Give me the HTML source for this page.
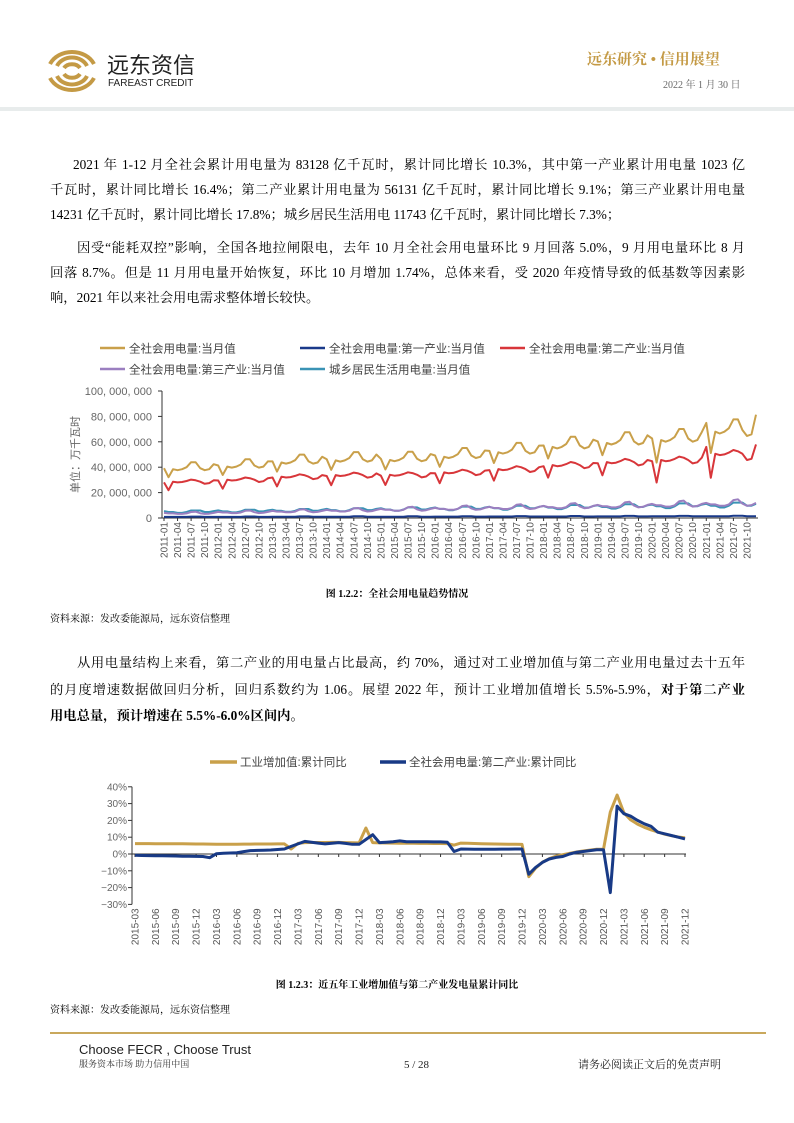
<!DOCTYPE html>
<html><head><meta charset="utf-8">
<style>
body{margin:0;background:#fff;}
#pg{position:relative;width:794px;height:1123px;overflow:hidden;background:#fff;font-family:"Liberation Serif","Noto Serif CJK SC",serif;color:#000;}
.a{position:absolute;white-space:nowrap;line-height:1;}
.ln{position:absolute;left:50px;width:695px;font-size:13.3px;line-height:16px;text-align:justify;text-align-last:justify;white-space:nowrap;}
.cap{position:absolute;left:0;width:794px;text-align:center;font-size:10px;font-weight:bold;}
.src{position:absolute;left:50px;font-size:10px;}
svg text{font-family:"Liberation Sans","Noto Sans CJK SC",sans-serif;}
</style></head><body><div id="pg">
<svg class="a" style="left:44px;top:48px" width="56" height="46" viewBox="0 0 56 46">
<g fill="none" stroke="#c49a45" stroke-width="4">
<path d="M6 16 A24 20 0 0 1 50 16"/><path d="M6 30 A24 20 0 0 0 50 30"/>
<path d="M13 18 A16 13 0 0 1 43 18"/><path d="M13 28 A16 13 0 0 0 43 28"/>
<path d="M20 20 A9 7 0 0 1 36 20"/><path d="M20 26 A9 7 0 0 0 36 26"/>
</g></svg>
<div class="a" style="left:107px;top:55px;font-family:'Liberation Sans','Noto Sans CJK SC',sans-serif;font-size:22px;color:#222;">远东资信</div>
<div class="a" style="left:108px;top:79px;font-family:'Liberation Sans',sans-serif;font-size:10px;color:#222;">FAREAST CREDIT</div>
<div class="a" style="left:587px;top:53px;font-size:15px;font-weight:bold;color:#c49a45;">远东研究 • 信用展望</div>
<div class="a" style="left:663px;top:81px;font-size:10px;color:#666;">2022 年 1 月 30 日</div>
<div class="a" style="left:0;top:107px;width:794px;height:4px;background:#e8ecec;"></div>

<div class="ln" style="top:157px;padding-left:23px;width:672px;">2021 年 1-12 月全社会累计用电量为 83128 亿千瓦时，累计同比增长 10.3%，其中第一产业累计用电量 1023 亿</div>
<div class="ln" style="top:182px;">千瓦时，累计同比增长 16.4%；第二产业累计用电量为 56131 亿千瓦时，累计同比增长 9.1%；第三产业累计用电量</div>
<div class="ln" style="top:207px;text-align-last:left;">14231 亿千瓦时，累计同比增长 17.8%；城乡居民生活用电 11743 亿千瓦时，累计同比增长 7.3%；</div>
<div class="ln" style="top:240px;padding-left:27px;width:668px;">因受“能耗双控”影响，全国各地拉闸限电，去年 10 月全社会用电量环比 9 月回落 5.0%，9 月用电量环比 8 月</div>
<div class="ln" style="top:265px;">回落 8.7%。但是 11 月用电量开始恢复，环比 10 月增加 1.74%，总体来看，受 2020 年疫情导致的低基数等因素影</div>
<div class="ln" style="top:290px;text-align-last:left;">响，2021 年以来社会用电需求整体增长较快。</div>

<svg class="a" id="c1" style="left:0;top:330px" width="794" height="250"></svg>
<div class="cap" style="top:585px;">图 1.2.2：全社会用电量趋势情况</div>
<div class="src" style="top:610px;">资料来源：发改委能源局，远东资信整理</div>

<div class="ln" style="top:655px;padding-left:27px;width:668px;">从用电量结构上来看，第二产业的用电量占比最高，约 70%，通过对工业增加值与第二产业用电量过去十五年</div>
<div class="ln" style="top:682px;">的月度增速数据做回归分析，回归系数约为 1.06。展望 2022 年，预计工业增加值增长 5.5%-5.9%，<b>对于第二产业</b></div>
<div class="ln" style="top:708px;text-align-last:left;"><b>用电总量，预计增速在 5.5%-6.0%区间内。</b></div>

<svg class="a" id="c2" style="left:0;top:745px" width="794" height="230"></svg>
<div class="cap" style="top:976px;">图 1.2.3：近五年工业增加值与第二产业发电量累计同比</div>
<div class="src" style="top:1001px;">资料来源：发改委能源局，远东资信整理</div>

<div class="a" style="left:50px;top:1032px;width:716px;height:2px;background:#c9a85c;"></div>
<div class="a" style="left:79px;top:1043px;font-family:'Liberation Sans',sans-serif;font-size:13px;color:#222;">Choose FECR , Choose Trust</div>
<div class="a" style="left:79px;top:1060px;font-size:9px;color:#333;">服务资本市场 助力信用中国</div>
<div class="a" style="left:404px;top:1060px;font-size:11px;color:#222;">5 / 28</div>
<div class="a" style="left:578px;top:1060px;font-size:11px;color:#222;">请务必阅读正文后的免责声明</div>
</div>
<script>
var NS="http://www.w3.org/2000/svg";
function el(svg,t,a,txt){var e=document.createElementNS(NS,t);for(var k in a)e.setAttribute(k,a[k]);if(txt!==undefined)e.textContent=txt;svg.appendChild(e);return e;}
(function(){
var s=document.getElementById('c1'),oy=330;
function Y(v){return 518-oy-v/100e6*127;}
var x0=164,x1=756,n=132;function X(i){return x0+i*(x1-x0)/(n-1);}
var yrT=[39.2,41.3,44.6,46.3,46.6,49.2,52.8,57.1,60.3,62.6,69.3];
var sT=[1.0,0.82,0.98,0.96,0.98,1.02,1.12,1.12,1.0,0.96,0.98,1.08];
var sS=[1.0,0.78,1.02,1.0,1.01,1.04,1.08,1.06,1.02,0.96,0.98,1.06];
var sR=[1.05,0.95,0.95,0.85,0.85,0.95,1.25,1.3,1.0,0.85,0.9,1.05];
var T=[],S=[],P=[],Tr=[],R=[];
for(var i=0;i<n;i++){var y=Math.floor(i/12),m=i%12,b=yrT[y]*1e6;
var t=b*sT[m],sv=b*0.715*sS[m];
if(y==9&&m==1){t*=0.85;sv*=0.8;} if(y==10&&m==0){t*=1.08;sv*=1.13;} if(y==10&&m==1){t*=0.9;sv*=0.82;}
if(y==10&&m>=9){t*=0.97;sv*=0.96;} if(i==n-1){t*=1.12;sv*=1.15;}
T.push(t);S.push(sv);P.push((0.85+y*0.05)*1e6*(m>5&&m<9?1.3:1));
var tb=(3.8+y*0.75)*1e6;Tr.push(tb*sR[m]);var rb=(4.7+y*0.5)*1e6;R.push(rb*(m==0||m==11?1.15:1)*(m>5&&m<9?1.25:1)*(m>2&&m<5?0.85:1));}
function line(d,c,w){var p="";for(var i=0;i<d.length;i++)p+=X(i).toFixed(1)+","+Y(d[i]).toFixed(1)+" ";el(s,"polyline",{points:p,fill:"none",stroke:c,"stroke-width":w,"stroke-linejoin":"round"});}
el(s,"line",{x1:162,y1:Y(100e6),x2:162,y2:Y(0),stroke:"#333","stroke-width":1});
el(s,"line",{x1:162,y1:Y(0),x2:758,y2:Y(0),stroke:"#333","stroke-width":1});
var lab=["100, 000, 000","80, 000, 000","60, 000, 000","40, 000, 000","20, 000, 000","0"];
for(var k=0;k<6;k++){var v=(5-k)*20e6;el(s,"line",{x1:158,y1:Y(v),x2:162,y2:Y(v),stroke:"#333"});el(s,"text",{x:152,y:Y(v)+4,"text-anchor":"end","font-size":"11",fill:"#666"},lab[k]);}
el(s,"text",{transform:"translate(79,"+Y(50e6)+") rotate(-90)","text-anchor":"middle","font-size":"11",fill:"#666"},"单位：万千瓦时");
for(var i=0;i<n;i+=3){var yy=2011+Math.floor(i/12),mm=i%12+1;el(s,"line",{x1:X(i),y1:Y(0),x2:X(i),y2:Y(0)+3,stroke:"#333"});
el(s,"text",{transform:"translate("+(X(i)+3.5)+","+(Y(0)+4)+") rotate(-90)","text-anchor":"end","font-size":"10",fill:"#555"},yy+"-"+(mm<10?"0":"")+mm);}
line(R,"#3a93b5",2);line(Tr,"#9b7fc0",2);line(P,"#1a3a8a",2);line(S,"#d8363a",2);line(T,"#c9a04a",2);
var L=[[100,18,"#c9a04a","全社会用电量:当月值"],[300,18,"#1a3a8a","全社会用电量:第一产业:当月值"],[500,18,"#d8363a","全社会用电量:第二产业:当月值"],[100,39,"#9b7fc0","全社会用电量:第三产业:当月值"],[300,39,"#3a93b5","城乡居民生活用电量:当月值"]];
L.forEach(function(l){el(s,"line",{x1:l[0],y1:l[1],x2:l[0]+25,y2:l[1],stroke:l[2],"stroke-width":2.5});el(s,"text",{x:l[0]+29,y:l[1]+4.5,"font-size":"11.5",fill:"#444"},l[3]);});
})();
(function(){
var s=document.getElementById('c2'),oy=745;
function Y(v){return 854-oy-v*1.68;}
function X(i){return 135+i*(685-135)/81;}
var G=[],B=[];for(var i=0;i<82;i++){G.push(0);B.push(0);}
var g2={0:6.2,6:6.1,11:5.9,12:5.8,13:5.8,21:6.0,22:6.0,23:3.0,24:6.3,25:6.8,30:6.9,33:6.6,34:15.5,35:6.8,36:6.6,40:6.4,46:6.2,47:5.3,48:6.5,52:6.0,57:5.7,58:-13.5,59:-8.4,60:-4.9,61:-2.8,62:-1.3,63:-0.4,64:0.4,65:1.2,66:1.8,67:2.3,68:2.8,69:2.8,70:25,71:35.1,72:24.5,73:20.3,74:17.8,75:15.9,76:14.4,77:13.1,78:11.8,79:10.9,80:10.1,81:9.6};
var bx={0:-0.8,10:-1.5,11:-2.2,12:0.2,15:0.8,17:2,20:2.4,22:3,24:6,25:7.5,27:6.5,28:6,30:6.8,32:5.8,33:5.8,35:11.5,36:6.8,38:7.3,39:7.8,40:7.3,45:7.2,46:7,47:1.5,48:3,51:2.8,57:3,58:-12,59:-8,60:-5,61:-3,62:-2,63:-1.5,64:0,65:1,66:1.5,67:2,68:2.5,69:2.5,70:-23,71:28.5,72:24,73:22.5,74:20,75:18,76:16.5,77:13,78:12,79:11,80:10,81:9};
function fill(arr,o){var keys=Object.keys(o).map(Number).sort(function(a,b){return a-b});for(var i=0;i<82;i++){var lo=keys[0],hi=keys[keys.length-1];for(var k=0;k<keys.length;k++){if(keys[k]<=i)lo=keys[k];}for(var k=keys.length-1;k>=0;k--){if(keys[k]>=i)hi=keys[k];}arr[i]=lo==hi?o[lo]:o[lo]+(o[hi]-o[lo])*(i-lo)/(hi-lo);}}
fill(G,g2);fill(B,bx);
el(s,"line",{x1:132,y1:Y(40),x2:132,y2:Y(-30),stroke:"#333"});
el(s,"line",{x1:132,y1:Y(0),x2:686,y2:Y(0),stroke:"#333"});
for(var v=40;v>=-30;v-=10){el(s,"line",{x1:128,y1:Y(v),x2:132,y2:Y(v),stroke:"#333"});el(s,"text",{x:127,y:Y(v)+3.5,"text-anchor":"end","font-size":"10",fill:"#666"},(v<0?"−":"")+Math.abs(v)+"%");}
for(var i=0;i<82;i+=3){var yy=2015+Math.floor((i+2)/12),mm=(i+2)%12+1;el(s,"line",{x1:X(i),y1:Y(0),x2:X(i),y2:Y(0)+3,stroke:"#333"});
el(s,"text",{transform:"translate("+(X(i)+3.5)+","+(Y(-30)+4)+") rotate(-90)","text-anchor":"end","font-size":"10",fill:"#555"},yy+"-"+(mm<10?"0":"")+mm);}
function line(d,c,w){var p="";for(var i=0;i<d.length;i++)p+=X(i).toFixed(1)+","+Y(d[i]).toFixed(1)+" ";el(s,"polyline",{points:p,fill:"none",stroke:c,"stroke-width":w,"stroke-linejoin":"round"});}
line(G,"#c9a04a",3);line(B,"#183a86",3);
el(s,"line",{x1:210,y1:17,x2:237,y2:17,stroke:"#c9a04a","stroke-width":3.5});el(s,"text",{x:240,y:21,"font-size":"11.5",fill:"#444"},"工业增加值:累计同比");
el(s,"line",{x1:380,y1:17,x2:406,y2:17,stroke:"#183a86","stroke-width":3.5});el(s,"text",{x:409,y:21,"font-size":"11.5",fill:"#444"},"全社会用电量:第二产业:累计同比");
})();
</script>
</body></html>
